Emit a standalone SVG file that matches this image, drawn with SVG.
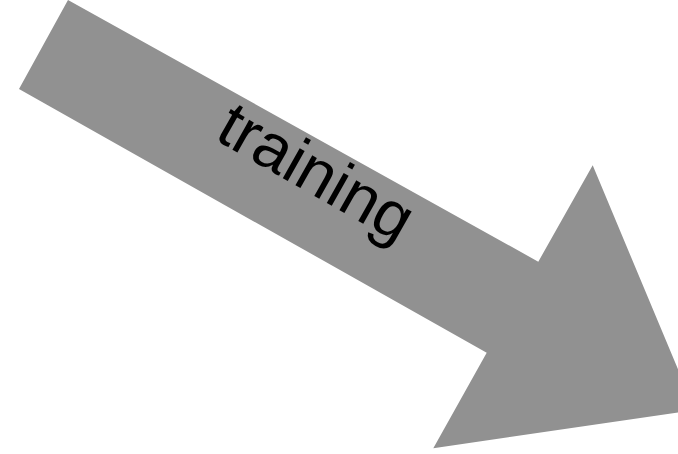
<svg xmlns="http://www.w3.org/2000/svg" width="678" height="454" viewBox="0 0 678 454">
<style>
.arrow{fill:#919191;stroke:none}
.lbl{font-family:"Liberation Sans",Arial,sans-serif;font-size:65px;fill:#000}
</style>
<rect width="678" height="454" fill="#fff"/>
<g id="connectors">
<g id="arrow-training">
<polygon class="arrow" points="68,0 538.3,261.7 592.7,165.3 695,410 433.3,448.3 486.7,352.7 19,89"/>
<text class="lbl" x="0" y="0" text-anchor="middle" transform="translate(317,171) rotate(29.5)" dy="23">training</text>
</g>
</g>
</svg>
